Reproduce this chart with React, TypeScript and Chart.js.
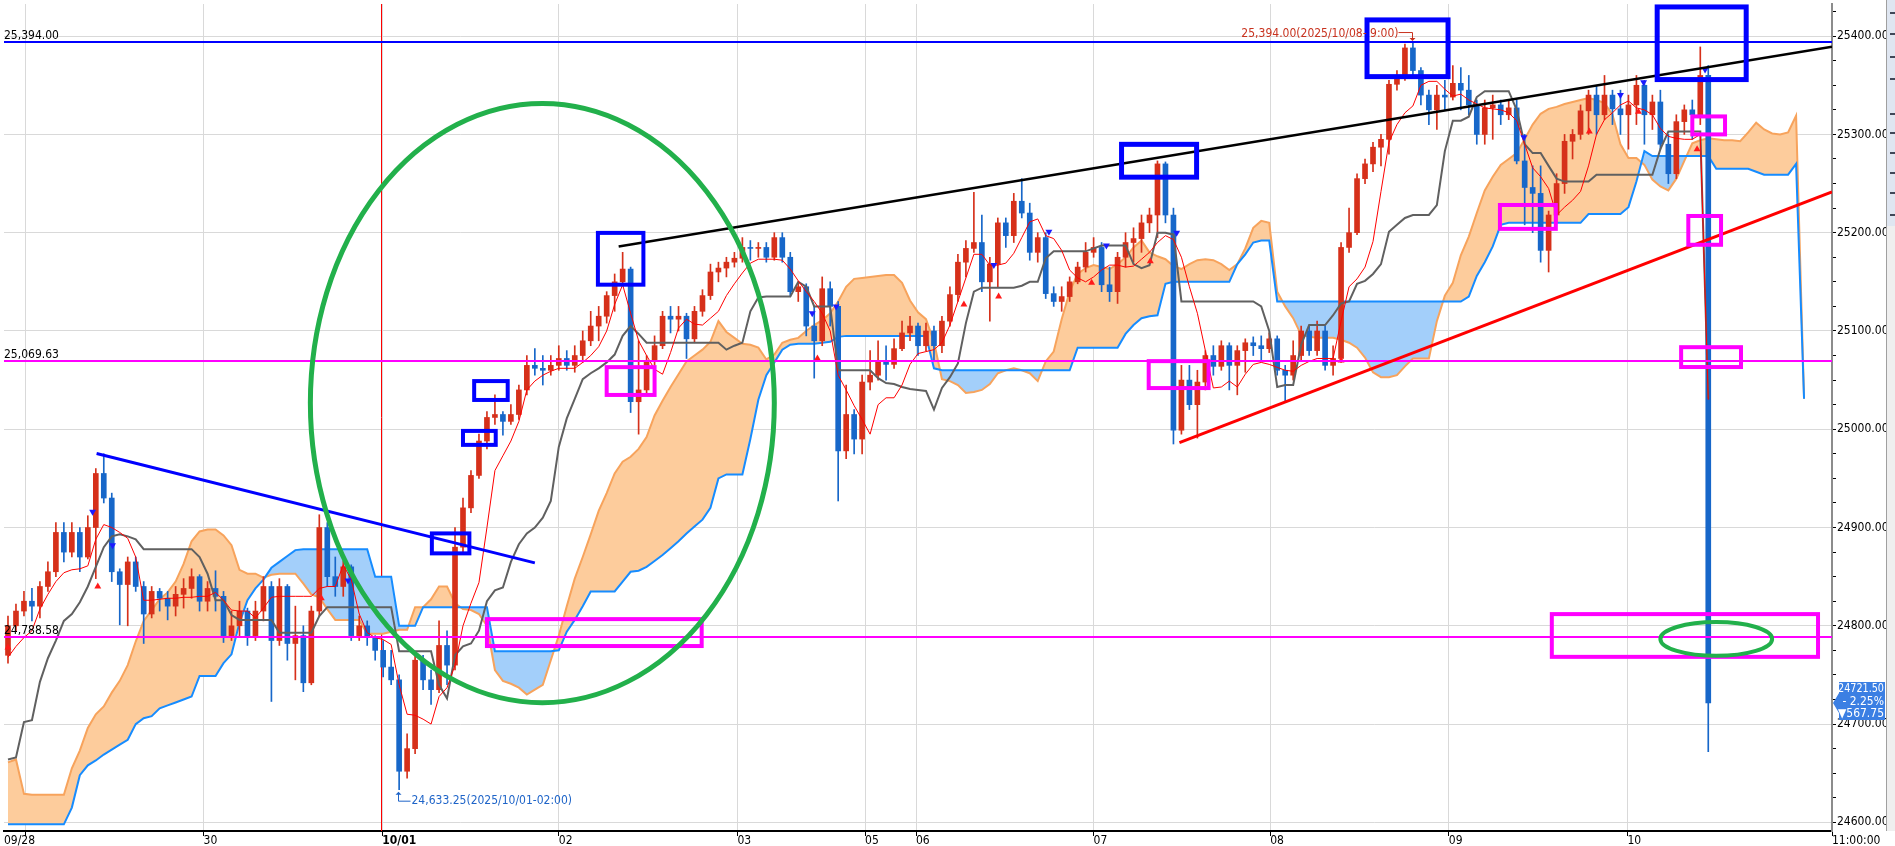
import React, { useEffect, useRef } from 'react';
import { Chart, registerables } from 'chart.js';
Chart.register(...registerables);

// ---------- DATA (x unit = one hourly slot, 8px wide) ----------
const xTickSlots = [0, 2.75, 25, 47.375, 69.5, 91.875, 107.875, 114.25, 136.5, 158.625, 181, 203.375, 229];
const xTickLabels = ['09/28', '', '30', '10/01', '02', '03', '05', '06', '07', '08', '09', '10', '11:00:00'];
const yMajorTicks = [24600, 24700, 24800, 24900, 25000, 25100, 25200, 25300, 25400];

const opens = [
24770,24800,24815,24825,24820,24840,24855,24895,24875,24895,
24870,24900,24955,24930,24855,24842,24865,24840,24812,24835,
24828,24820,24832,24838,24850,24825,24838,24830,24790,24800,
24815,24790,24815,24840,24785,24840,24782,24790,24742,24815,
24900,24850,24840,24860,24790,24800,24788,24775,24758,24745,
24652,24675,24765,24745,24735,24780,24760,24880,24920,24953,
24988,25012,25015,25008,25015,25040,25065,25062,25060,25065,
25072,25065,25075,25090,25105,25115,25136,25150,25163,25028,
25040,25070,25085,25115,25112,25115,25092,25120,25136,25160,
25164,25170,25174,25185,25184,25185,25175,25195,25175,25140,
25145,25105,25090,25143,25125,24978,25015,24990,25048,25055,
25070,25066,25082,25098,25105,25085,25100,25085,25110,25137,
25170,25184,25190,25150,25168,25210,25197,25232,25220,25180,
25195,25138,25130,25135,25150,25165,25180,25185,25147,25140,
25175,25190,25194,25210,25218,25270,25218,24999,25050,25025,
25048,25075,25064,25085,25065,25080,25088,25085,25082,25092,
25060,25055,25075,25100,25080,25100,25065,25072,25185,25200,
25255,25270,25287,25295,25351,25357,25388,25365,25340,25325,
25340,25338,25352,25345,25330,25300,25327,25330,25320,25327,
25273,25246,25240,25182,25218,25250,25293,25300,25324,25340,
25320,25340,25326,25320,25330,25350,25320,25333,25290,25260,
25313,25325,25320,25360];
const highs = [
24810,24822,24835,24838,24845,24865,24905,24905,24905,24900,
24912,24960,24975,24935,24858,24870,24870,24845,24840,24838,
24835,24840,24848,24858,24852,24845,24856,24835,24815,24825,
24818,24825,24850,24845,24848,24842,24820,24800,24820,24913,
24905,24870,24866,24862,24810,24805,24790,24785,24775,24750,
24690,24772,24770,24755,24805,24795,24900,24930,24958,24995,
25018,25035,25018,25025,25045,25075,25082,25075,25075,25085,
25080,25085,25100,25120,25125,25140,25158,25180,25165,25090,
25075,25095,25120,25125,25125,25118,25125,25142,25168,25170,
25175,25180,25195,25192,25190,25190,25200,25200,25180,25150,
25148,25125,25155,25150,25130,25045,25020,25055,25080,25090,
25085,25092,25110,25115,25108,25108,25105,25115,25145,25178,
25192,25241,25218,25175,25215,25215,25240,25255,25230,25200,
25200,25145,25145,25155,25170,25190,25195,25190,25165,25180,
25200,25205,25218,25225,25273,25272,25225,25065,25065,25060,
25080,25085,25090,25088,25085,25092,25094,25095,25098,25095,
25065,25090,25105,25105,25110,25105,25085,25190,25225,25260,
25275,25292,25300,25355,25365,25392,25394,25368,25345,25350,
25355,25370,25368,25360,25335,25335,25340,25335,25335,25335,
25300,25268,25268,25222,25260,25300,25305,25330,25345,25350,
25360,25345,25345,25340,25360,25355,25340,25345,25300,25320,
25330,25335,25389,25370];
const lows = [
24762,24795,24810,24805,24808,24835,24850,24865,24870,24855,
24868,24848,24925,24845,24801,24800,24835,24782,24808,24815,
24806,24810,24818,24828,24815,24815,24815,24783,24785,24790,
24780,24785,24805,24723,24780,24765,24745,24733,24740,24810,
24840,24830,24830,24785,24785,24780,24765,24748,24740,24633.25,
24645,24670,24735,24720,24732,24740,24755,24875,24915,24950,
24980,25005,24994,25005,25010,25035,25055,25045,25055,25060,
25060,25058,25068,25085,25090,25108,25120,25148,25017,24995,
25035,25065,25082,25098,25100,25072,25088,25115,25132,25150,
25155,25165,25170,25172,25175,25170,25172,25170,25135,25130,
25095,25052,25085,25105,24927,24970,24975,24975,25040,25050,
25050,25062,25080,25090,25075,25080,25070,25078,25105,25130,
25155,25180,25140,25110,25145,25185,25190,25215,25172,25170,
25133,25125,25120,25130,25148,25160,25175,25140,25130,25128,
25165,25170,25180,25200,25195,25210,24985,24995,25020,24991,
25040,25055,25060,25040,25035,25058,25075,25070,25078,25055,
25028,25050,25070,25075,25075,25060,25055,25068,25180,25198,
25250,25262,25268,25280,25345,25355,25360,25330,25310,25305,
25325,25335,25325,25320,25290,25290,25295,25310,25315,25270,
25208,25200,25170,25160,25210,25240,25275,25295,25300,25300,
25315,25310,25300,25285,25310,25290,25305,25285,25250,25255,
25300,25295,25310,24672];
const closes = [
24800,24815,24825,24820,24840,24855,24895,24875,24895,24870,
24900,24955,24930,24855,24842,24865,24840,24812,24835,24828,
24820,24832,24838,24850,24825,24838,24830,24790,24800,24815,
24790,24815,24840,24785,24840,24782,24790,24742,24815,24900,
24850,24840,24860,24790,24800,24788,24775,24758,24745,24652,
24675,24765,24745,24735,24780,24760,24880,24920,24953,24988,
25012,25015,25008,25015,25040,25065,25062,25060,25065,25072,
25065,25075,25090,25105,25115,25136,25150,25163,25028,25040,
25070,25085,25115,25112,25115,25092,25120,25136,25160,25164,
25170,25174,25185,25184,25185,25175,25195,25175,25140,25145,
25105,25090,25143,25125,24978,25015,24990,25048,25055,25070,
25066,25082,25098,25105,25085,25100,25085,25110,25137,25170,
25184,25190,25150,25168,25210,25197,25232,25220,25180,25195,
25138,25130,25135,25150,25165,25180,25185,25147,25140,25175,
25190,25194,25210,25218,25270,25218,24999,25050,25025,25048,
25075,25064,25085,25065,25080,25088,25085,25082,25092,25060,
25055,25075,25100,25080,25100,25065,25072,25185,25200,25255,
25270,25287,25295,25351,25357,25388,25365,25340,25325,25340,
25338,25352,25345,25330,25300,25327,25330,25320,25327,25273,
25246,25240,25182,25218,25250,25293,25300,25324,25340,25320,
25340,25326,25320,25330,25350,25320,25333,25290,25260,25313,
25325,25320,25360,24721.5];

const tenkan = [
24768,24779,24788,24795,24817,24832,24845,24854,24857,24858,
24861,24888,24903,24900,24895,24889,24870,24826,24826,24827,
24828,24828,24829,24829,24830,24830,24834,24826,24816,24815,
24815,24808,24818,24829,24830,24830,24830,24830,24830,24838,
24840,24840,24862,24847,24812,24793,24788,24786,24781,24740,
24710,24709,24705,24700,24728,24737,24760,24800,24823,24844,
24900,24958,24973,24988,25008,25040,25049,25055,25059,25062,
25062,25062,25068,25075,25084,25100,25127,25147,25118,25090,
25075,25061,25056,25078,25103,25112,25107,25106,25113,25120,
25136,25148,25159,25169,25173,25173,25173,25172,25163,25151,
25140,25130,25118,25100,25055,25040,25024,25010,24995,25025,
25032,25032,25045,25066,25077,25079,25081,25088,25106,25130,
25154,25178,25178,25167,25167,25169,25179,25195,25211,25214,
25197,25194,25182,25162,25154,25150,25155,25162,25167,25167,
25165,25166,25173,25180,25190,25197,25193,25175,25145,25118,
25080,25042,25043,25049,25043,25056,25066,25068,25066,25063,
25060,25059,25065,25069,25072,25072,25072,25110,25145,25153,
25165,25191,25242,25292,25310,25322,25329,25350,25354,25354,
25346,25339,25341,25335,25331,25327,25326,25325,25322,25314,
25290,25266,25257,25245,25218,25226,25233,25242,25268,25300,
25315,25322,25330,25334,25327,25325,25320,25306,25298,25296,
25295,25295,25300,25030];
const kijun = [
24664,24666,24702,24704,24743,24767,24785,24805,24812,24824,
24840,24860,24880,24891,24893,24891,24888,24878,24878,24878,
24878,24878,24878,24878,24870,24853,24826,24826,24811,24806,
24806,24806,24806,24806,24793,24793,24793,24793,24793,24810,
24819,24819,24819,24819,24819,24819,24819,24819,24819,24774,
24774,24774,24774,24774,24740,24726,24770,24779,24782,24795,
24825,24836,24839,24865,24883,24894,24900,24910,24927,24982,
25011,25031,25051,25057,25062,25068,25076,25095,25105,25097,
25088,25088,25088,25088,25088,25088,25088,25088,25088,25088,
25081,25085,25088,25120,25134,25135,25135,25135,25135,25150,
25145,25125,25125,25125,25060,25060,25060,25060,25060,25052,
25047,25046,25043,25041,25040,25039,25020,25042,25053,25067,
25108,25140,25144,25144,25144,25144,25144,25146,25150,25150,
25174,25181,25181,25181,25181,25181,25184,25187,25187,25187,
25187,25168,25164,25167,25200,25200,25198,25130,25130,25130,
25130,25130,25130,25130,25130,25130,25130,25125,25100,25043,
25045,25045,25086,25106,25106,25106,25116,25128,25130,25148,
25151,25158,25168,25201,25208,25215,25218,25218,25218,25228,
25283,25314,25314,25318,25338,25344,25344,25344,25344,25325,
25290,25281,25281,25268,25255,25252,25252,25252,25252,25259,
25259,25259,25259,25259,25259,25259,25259,25285,25303,25303,
25303,25303,25303,25031];
const spanA = [
24661,24664,24629,24628,24628,24628,24628,24628,24655,24673,
24696,24710,24718,24732,24744,24760,24784,24805,24816,24827,
24834,24845,24863,24886,24896,24898,24898,24892,24882,24857,
24853,24853,24849,24852,24853,24853,24853,24843,24832,24829,
24817,24806,24806,24806,24806,24792,24792,24792,24794,24796,
24796,24819,24819,24827,24840,24840,24823,24817,24816,24812,
24800,24755,24744,24741,24737,24730,24735,24740,24765,24790,
24820,24848,24870,24893,24917,24935,24955,24967,24972,24980,
24992,25014,25029,25043,25056,25069,25075,25081,25089,25110,
25099,25093,25087,25086,25083,25071,25076,25088,25091,25093,
25100,25106,25111,25118,25130,25145,25153,25154,25155,25156,
25157,25157,25149,25131,25119,25112,25089,25051,25049,25045,
25037,25038,25040,25046,25057,25060,25062,25060,25057,25049,
25069,25079,25112,25140,25158,25164,25167,25165,25163,25168,
25175,25185,25192,25180,25176,25173,25166,25163,25168,25172,
25173,25172,25168,25162,25168,25184,25205,25212,25210,25140,
25125,25113,25096,25094,25093,25093,25093,25091,25088,25083,
25073,25058,25053,25053,25055,25064,25072,25072,25072,25110,
25136,25149,25177,25196,25220,25243,25257,25269,25275,25281,
25295,25310,25321,25326,25328,25331,25333,25335,25337,25335,
25332,25320,25290,25276,25276,25269,25254,25247,25243,25255,
25273,25291,25294,25296,25295,25294,25294,25293,25302,25312,
25305,25301,25300,25302,25319,25031];
const spanB = [
24598,24598,24598,24598,24598,24598,24598,24598,24615,24648,
24658,24663,24669,24674,24679,24684,24700,24706,24708,24716,
24719,24722,24725,24728,24749,24749,24749,24762,24771,24803,
24826,24838,24847,24859,24865,24871,24877,24878,24878,24878,
24878,24878,24878,24878,24878,24878,24850,24850,24850,24800,
24800,24800,24819,24819,24819,24819,24819,24819,24819,24819,
24819,24774,24774,24774,24774,24774,24774,24774,24774,24775,
24794,24806,24820,24835,24835,24835,24835,24845,24855,24856,
24860,24866,24872,24879,24886,24894,24901,24908,24920,24950,
24954,24954,24954,24990,25030,25055,25068,25081,25086,25087,
25087,25087,25088,25089,25094,25095,25095,25095,25095,25095,
25095,25095,25095,25095,25095,25095,25062,25060,25060,25060,
25060,25060,25060,25060,25060,25060,25060,25060,25060,25060,
25060,25060,25060,25060,25083,25083,25083,25083,25083,25083,
25097,25106,25113,25115,25116,25148,25150,25150,25150,25150,
25150,25150,25150,25150,25168,25178,25190,25192,25192,25130,
25130,25130,25130,25130,25130,25130,25130,25130,25130,25130,
25130,25130,25130,25130,25130,25130,25130,25130,25130,25130,
25130,25130,25130,25135,25156,25170,25186,25208,25210,25210,
25210,25210,25210,25210,25210,25210,25210,25210,25219,25219,
25219,25219,25219,25226,25252,25283,25278,25278,25278,25278,
25278,25278,25278,25278,25265,25265,25265,25265,25265,25262,
25259,25259,25259,25259,25270,25031];

const sellSignalSlots = [11.1, 13.6, 43.1, 101.25, 104.25, 124, 130.9, 138.1, 146.9, 190.4, 202.5, 205.4, 213.1];
const sellSignalPrices = [24916, 24882, 24846, 25118, 25125, 25167, 25201, 25187, 25200, 25297, 25340, 25353, 25366];
const buySignalSlots = [0.5, 11.75, 39.75, 101.9, 120.25, 124.6, 136.25, 143.6, 167.5, 198.6, 204.75, 212.1];
const buySignalPrices = [24778, 24840, 24828, 25072, 25127, 25135, 25149, 25171, 25070, 25303, 25323, 25285];

const hLevelValues = [25394, 25069.63, 24788.58];
const hLevelLabels = ['25,394.00', '25,069.63', '24,788.58'];
const sessionLineSlot = 47.25;
const resistanceLine = [77, 25185.9, 229, 25389.3];
const supportLine = [147.25, 24986.3, 229, 25241.5];
const downTrendLine = [11.6, 24975.4, 66.5, 24864];
const blueBoxes = [
  [74.4, 80.1, 25199.8, 25147.1],
  [58.9, 63.1, 25049.0, 25029.8],
  [57.5, 61.6, 24998.3, 24984.1],
  [53.6, 58.3, 24894.0, 24873.7],
  [140.0, 149.4, 25289.9, 25256.5],
  [170.75, 180.9, 25416.5, 25358.8],
  [207.1, 218.25, 25429.7, 25355.8],
];
const magentaBoxes = [
  [60.5, 87.4, 24806.8, 24779.4],
  [75.5, 81.5, 25063.2, 25034.9],
  [143.4, 150.9, 25069.3, 25041.9],
  [187.4, 194.4, 25228.2, 25203.9],
  [211.5, 215.6, 25318.3, 25300.0],
  [211.0, 215.1, 25217.0, 25187.7],
  [210.1, 217.6, 25083.5, 25063.3],
  [193.9, 227.25, 24811.9, 24768.4],
];
const bigEllipse = [67.44, 25026.6, 29.06, 304.8];
const smallEllipse = [214.5, 24786.6, 7, 17.2];
const highNoteIndex = 176;
const highNoteText = '25,394.00(2025/10/08- 9:00)';
const lowNoteIndex = 49;
const lowNoteText = '24,633.25(2025/10/01-02:00)';
const priceTagLines = ['24721.50', '- 2.25%', '\u25BC567.75'];

const FONT = "'Liberation Sans Narrow', 'DejaVu Sans Condensed', 'Arial Narrow', sans-serif";

export default function App() {
  const ref = useRef<HTMLCanvasElement | null>(null);
  useEffect(() => {
    document.body.style.margin = '0';
    document.body.style.background = '#fff';
    const canvas = ref.current;
    if (!canvas) return;
    const UP = '#d6301a';
    const DOWN = '#1767c9';
    const colors = closes.map((c, i) => (c >= opens[i] ? UP : DOWN));
    const bodies = closes.map((c, i) => ({ x: i + 0.5, y: [opens[i], c] }));
    const wicks = highs.map((h, i) => ({ x: i + 0.5, y: [lows[i], h] }));
    const pts = (arr: number[]) => arr.map((v, i) => ({ x: i + 0.5, y: v }));
    const sells = sellSignalSlots.map((s, i) => ({ x: s, y: sellSignalPrices[i] }));
    const buys = buySignalSlots.map((s, i) => ({ x: s, y: buySignalPrices[i] }));
    const yTicks: number[] = [];
    yMajorTicks.forEach((m) => { [0, 25, 50, 75].forEach((d) => { if (m + d <= 25432) yTicks.push(m + d); }); });

    const overlays = {
      id: 'overlays',
      beforeDraw(chart: any) {
        const { ctx, width, height } = chart;
        ctx.save();
        ctx.fillStyle = '#ffffff';
        ctx.fillRect(0, 0, width, height);
        ctx.restore();
      },
      beforeDatasetsDraw(chart: any) {
        const { ctx, chartArea: a, scales } = chart;
        const x = Math.round(scales.x.getPixelForValue(sessionLineSlot)) + 0.5;
        ctx.save();
        ctx.strokeStyle = '#ff0000';
        ctx.lineWidth = 1;
        ctx.beginPath();
        ctx.moveTo(x, a.top);
        ctx.lineTo(x, a.bottom);
        ctx.stroke();
        ctx.restore();
      },
      afterDatasetsDraw(chart: any) {
        const { ctx, chartArea: a, scales } = chart;
        const X = (v: number) => scales.x.getPixelForValue(v);
        const Y = (v: number) => scales.y.getPixelForValue(v);
        ctx.save();
        ctx.beginPath();
        ctx.rect(a.left, a.top, a.right - a.left, a.bottom - a.top);
        ctx.clip();
        const levelColors = ['#0000ff', '#ff00ff', '#ff00ff'];
        hLevelValues.forEach((v, i) => {
          const y = Math.round(Y(v));
          ctx.strokeStyle = levelColors[i];
          ctx.lineWidth = 2;
          ctx.beginPath();
          ctx.moveTo(a.left, y);
          ctx.lineTo(a.right, y);
          ctx.stroke();
          ctx.fillStyle = '#000';
          ctx.font = `12px ${FONT}`;
          ctx.textBaseline = 'alphabetic';
          ctx.textAlign = 'left';
          ctx.fillText(hLevelLabels[i], a.left, y - 3);
        });
        const seg = (l: number[], color: string, w: number) => {
          ctx.strokeStyle = color;
          ctx.lineWidth = w;
          ctx.beginPath();
          ctx.moveTo(X(l[0]), Y(l[1]));
          ctx.lineTo(X(l[2]), Y(l[3]));
          ctx.stroke();
        };
        seg(resistanceLine, '#000000', 2.5);
        seg(supportLine, '#ff0000', 3);
        seg(downTrendLine, '#0000ff', 3);
        const box = (b: number[], color: string, w: number) => {
          ctx.strokeStyle = color;
          ctx.lineWidth = w;
          ctx.strokeRect(X(b[0]), Y(b[2]), X(b[1]) - X(b[0]), Y(b[3]) - Y(b[2]));
        };
        blueBoxes.forEach((b, i) => box(b, '#0000ff', i >= 4 ? 5 : 4));
        magentaBoxes.forEach((b) => box(b, '#ff00ff', 4));
        const ell = (e: number[], w: number) => {
          const cx = X(e[0]);
          const cy = Y(e[1]);
          ctx.strokeStyle = '#22b04b';
          ctx.lineWidth = w;
          ctx.beginPath();
          ctx.ellipse(cx, cy, X(e[0] + e[2]) - cx, Y(e[1] - e[3]) - cy, 0, 0, Math.PI * 2);
          ctx.stroke();
        };
        ell(bigEllipse, 5);
        ell(smallEllipse, 4);
        ctx.font = `12px ${FONT}`;
        ctx.lineWidth = 1;
        const hx = Math.round(X(highNoteIndex + 0.5)) - 0.5;
        const hy = Y(highs[highNoteIndex]);
        ctx.strokeStyle = '#c8321e';
        ctx.fillStyle = '#c8321e';
        ctx.beginPath();
        ctx.moveTo(hx - 14, hy - 9.5);
        ctx.lineTo(hx, hy - 9.5);
        ctx.lineTo(hx, hy - 3);
        ctx.stroke();
        ctx.beginPath();
        ctx.moveTo(hx - 3, hy - 4);
        ctx.lineTo(hx + 3, hy - 4);
        ctx.lineTo(hx, hy - 1);
        ctx.closePath();
        ctx.fill();
        ctx.textAlign = 'right';
        ctx.textBaseline = 'middle';
        ctx.fillText(highNoteText, hx - 14, hy - 8);
        const lx = Math.round(X(lowNoteIndex + 0.5)) - 0.5;
        const ly = Y(lows[lowNoteIndex]);
        ctx.strokeStyle = '#1e64c8';
        ctx.fillStyle = '#1e64c8';
        ctx.beginPath();
        ctx.moveTo(lx, ly + 4);
        ctx.lineTo(lx, ly + 11.5);
        ctx.lineTo(lx + 12, ly + 11.5);
        ctx.stroke();
        ctx.beginPath();
        ctx.moveTo(lx - 3, ly + 5);
        ctx.lineTo(lx + 3, ly + 5);
        ctx.lineTo(lx, ly + 2);
        ctx.closePath();
        ctx.fill();
        ctx.textAlign = 'left';
        ctx.fillText(lowNoteText, lx + 13, ly + 11);
        ctx.restore();
      },
      afterDraw(chart: any) {
        const { ctx, chartArea: a, scales, width } = chart;
        ctx.save();
        ctx.fillStyle = '#dfe6f1';
        ctx.fillRect(1887, 0, width - 1887, 226);
        ctx.fillStyle = '#efefef';
        ctx.fillRect(1887, 226, width - 1887, a.bottom - 226);
        ctx.fillStyle = '#a0a0a0';
        ctx.fillRect(1886, 0, 1, a.bottom);
        ctx.fillStyle = '#404858';
        [12, 33, 56, 78, 113, 132, 152, 172, 192, 214].forEach((yy) => ctx.fillRect(1890, yy, 5, 2));
        const ty = Math.round(scales.y.getPixelForValue(closes[closes.length - 1]));
        const L = a.right + 1;
        ctx.fillStyle = '#3b7fe3';
        ctx.beginPath();
        ctx.moveTo(L, ty);
        ctx.lineTo(L + 6, ty - 10);
        ctx.lineTo(L + 6, ty - 21);
        ctx.lineTo(1885, ty - 21);
        ctx.lineTo(1885, ty + 17);
        ctx.lineTo(L + 6, ty + 17);
        ctx.lineTo(L + 6, ty + 10);
        ctx.closePath();
        ctx.fill();
        ctx.fillStyle = '#ffffff';
        ctx.font = `12px ${FONT}`;
        ctx.textAlign = 'right';
        ctx.textBaseline = 'middle';
        priceTagLines.forEach((t, i) => ctx.fillText(t, 1884, ty - 14 + i * 12.5, 46));
        ctx.restore();
      },
    };

    const chart = new Chart(canvas, {
      type: 'line',
      data: {
        datasets: [
          { type: 'line', data: pts(spanA), borderColor: '#f7a35c', borderWidth: 2, pointRadius: 0, tension: 0,
            fill: { target: 1, above: '#fdcc9c', below: '#a3cffa' }, order: 10 } as any,
          { type: 'line', data: pts(spanB), borderColor: '#168cff', borderWidth: 2, pointRadius: 0, tension: 0, fill: false, order: 9 },
          { type: 'bar', data: wicks, backgroundColor: colors, barThickness: 1, grouped: false, order: 6 } as any,
          { type: 'bar', data: bodies, backgroundColor: colors, barThickness: 5, grouped: false, minBarLength: 1, order: 5 } as any,
          { type: 'line', data: pts(kijun), borderColor: '#606060', borderWidth: 2, pointRadius: 0, tension: 0, fill: false, order: 4 },
          { type: 'line', data: pts(tenkan), borderColor: '#ff0000', borderWidth: 1, pointRadius: 0, tension: 0, fill: false, order: 3 },
          { type: 'scatter', data: sells, pointStyle: 'triangle', rotation: 180, radius: 4, backgroundColor: '#1a1aff', borderWidth: 0, order: 1 } as any,
          { type: 'scatter', data: buys, pointStyle: 'triangle', radius: 4, backgroundColor: '#ff1a1a', borderWidth: 0, order: 1 } as any,
        ],
      },
      options: {
        responsive: false,
        animation: false,
        devicePixelRatio: 1,
        events: [],
        layout: { padding: 0 },
        plugins: { legend: { display: false }, tooltip: { enabled: false } },
        scales: {
          x: {
            type: 'linear', min: 0, max: 229, offset: false, position: 'bottom',
            afterBuildTicks: (s: any) => { s.ticks = xTickSlots.map((v) => ({ value: v })); },
            afterFit: (s: any) => { s.height = 15; s.paddingLeft = 0; s.paddingRight = 0; },
            ticks: {
              autoSkip: false, maxRotation: 0, minRotation: 0, align: 'start', padding: -2, color: '#000',
              font: (c: any) => ({ family: FONT, size: 12, weight: c.tick && c.tick.label === '10/01' ? 'bold' : 'normal' }),
              callback: (_v: any, i: number) => xTickLabels[i],
            },
            grid: {
              offset: false,
              color: (c: any) => (c.tick && c.tick.value === 0 ? 'rgba(0,0,0,0)' : '#d9d9d9'),
              tickColor: (c: any) => (c.tick && c.tick.value === 0 ? 'rgba(0,0,0,0)' : '#000'),
              tickLength: 5, drawTicks: true,
            },
            border: { display: true, color: '#000', width: 2 },
          },
          y: {
            type: 'linear', position: 'right', min: 24591.2, max: 25432.7, offset: false,
            afterBuildTicks: (s: any) => { s.ticks = yTicks.map((v) => ({ value: v })); },
            afterFit: (s: any) => { s.width = 63; s.paddingTop = 0; s.paddingBottom = 0; },
            ticks: {
              autoSkip: false, padding: 1, color: '#000', font: { family: FONT, size: 12 },
              callback: (v: any) => (yMajorTicks.includes(v) ? Number(v).toFixed(2) : ''),
            },
            grid: {
              offset: false,
              color: (c: any) => (c.tick && yMajorTicks.includes(c.tick.value) ? '#d9d9d9' : 'rgba(0,0,0,0)'),
              tickColor: '#000', tickLength: 4, drawTicks: true,
            },
            border: { display: true, color: '#8c8c8c', width: 2 },
          },
        },
      } as any,
      plugins: [overlays],
    });
    return () => chart.destroy();
  }, []);
  return <canvas ref={ref} width={1895} height={846} style={{ display: 'block' }} />;
}
